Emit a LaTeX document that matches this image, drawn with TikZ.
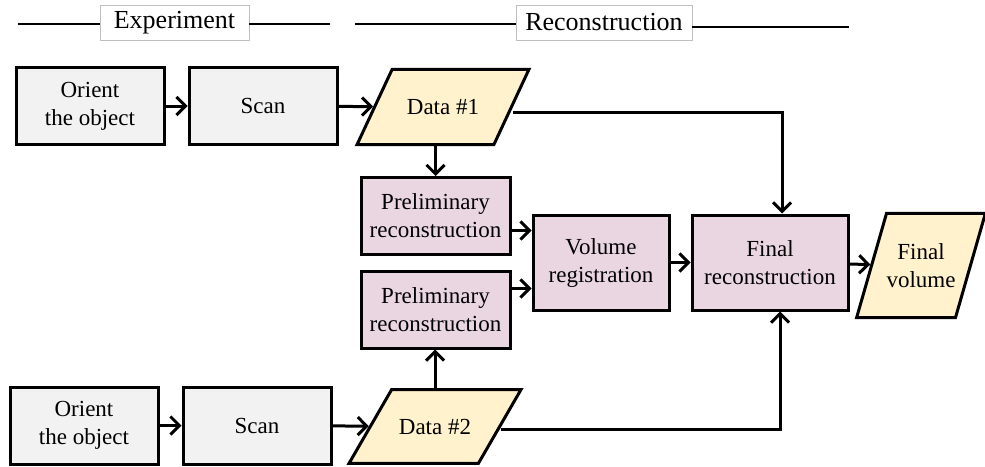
\documentclass[tikz,border=0pt]{standalone}
\usepackage{fontspec}
\setmainfont{Liberation Serif}
\usetikzlibrary{positioning,shapes.geometric,arrows.meta}

\definecolor{stepgray}{HTML}{F2F2F2}
\definecolor{recpink}{HTML}{EAD6E1}
\definecolor{datayellow}{HTML}{FFF2CC}
\definecolor{framegray}{HTML}{BFBFBF}

\tikzset{
  block/.style={draw, line width=1.5pt, align=center, inner sep=2pt,
    font=\fontsize{11.5}{14}\selectfont},
  expbox/.style={block, fill=stepgray, minimum width=74pt, minimum height=38.5pt},
  recbox/.style={block, fill=recpink, minimum width=74.5pt, minimum height=38.5pt},
  databox/.style={block, fill=datayellow, trapezium, trapezium left angle=#1,
    trapezium right angle=180-#1, trapezium stretches body, inner xsep=0pt},
  flow/.style={line width=1.5pt, -{Straight Barb[length=4.5pt,width=9pt]}},
  phaseline/.style={line width=1.4pt},
  phase/.style={draw=framegray, fill=white, line width=0.4pt,
    font=\fontsize{13}{15}\selectfont, inner sep=0pt}
}

\begin{document}
\begin{tikzpicture}[x=0.5pt, y=-0.5pt]
    \useasboundingbox (0,0) rectangle (985,466);

    % INTESTAZIONE
    \node[phase, minimum width=74.5pt, minimum height=17.5pt] (exp) at (174.5,22.5) {Experiment};
    \node[phase, minimum width=88pt, minimum height=17.5pt] (rec) at (604,22.5) {Reconstruction};
    \coordinate (expl) at (18,24);
    \coordinate (expr) at (330,24);
    \coordinate (recl) at (355,24);
    \coordinate (recr) at (849,27);
    \draw[phaseline] (expl) -- (exp.west |- expl);
    \draw[phaseline] (exp.east |- expr) -- (expr);
    \draw[phaseline] (recl) -- (rec.west |- recl);
    \draw[phaseline] (rec.east |- recr) -- (recr);

    % NODI
    \node[expbox] (orient1) at (90,106) {Orient\\the object};
    \node[expbox] (scan1) at (263,106) {Scan};
    \node[databox=65, minimum width=86pt, inner ysep=15pt] (data1) at (443,107) {Data \#1};
    \node[recbox] (prelim1) at (435.5,216) {Preliminary\\reconstruction};
    \node[recbox] (prelim2) at (435.5,309.5) {Preliminary\\reconstruction};
    \node[databox=60, minimum width=86pt, inner ysep=14.6pt] (data2) at (435,426.5) {Data \#2};
    \node[expbox] (orient2) at (84,425.5) {Orient\\the object};
    \node[expbox] (scan2) at (257,425.5) {Scan};
    \node[recbox, minimum width=68pt, minimum height=47.5pt] (volreg) at (601,262.5) {Volume\\registration};
    \node[recbox, minimum width=78pt, minimum height=47.5pt] (finalrec) at (770,262.5) {Final\\reconstruction};
    \node[databox=74, minimum width=59pt, inner ysep=15pt] (finalvol) at (921,265.5) {Final\\volume};

    % PUNTI DI ARRIVO
    \coordinate (volin1) at ([yshift=16pt]volreg.west);
    \coordinate (volin2) at ([yshift=-13pt]volreg.west);
    \coordinate (recin1) at ([xshift=6pt]finalrec.north);
    \coordinate (recin2) at ([xshift=5pt]finalrec.south);

    % FRECCE
    \draw[flow] (orient1) -- (scan1);
    \draw[flow] (scan1) -- (data1);
    \draw[flow] (orient2) -- (scan2);
    \draw[flow] (scan2) -- (data2);
    \draw[flow] (prelim1.north |- data1.south) -- (prelim1.north);
    \draw[flow] (data2.north) -- (data2.north |- prelim2.south);
    \draw[flow] (prelim1.east |- volin1) -- (volin1);
    \draw[flow] (prelim2.east |- volin2) -- (volin2);
    \draw[flow] (volreg) -- (finalrec);
    \draw[flow] (finalrec) -- (finalvol);
    \draw[flow] ([yshift=-2.5pt]data1.east) -| (recin1);
    \draw[flow] ([yshift=-1.5pt]data2.east) -| (recin2);
\end{tikzpicture}
\end{document}
